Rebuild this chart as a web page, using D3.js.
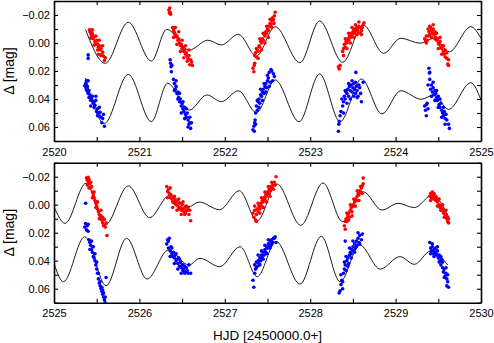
<!DOCTYPE html>
<html>
<head>
<meta charset="utf-8">
<script src="https://cdn.jsdelivr.net/npm/d3@7"></script>
<style>
  html, body { margin: 0; padding: 0; background: #fff; }
  svg { display: block; font-family: "Liberation Sans", Arial, sans-serif; }
</style>
</head>
<body>
<div id="chart"></div>
<script>
// ---- data (HJD - 2450000, delta mag) ----
const redTop = [
  [2520.415,-0.0095],[2520.42,-0.0085],[2520.425,-0.0075],[2520.43,-0.0092],[2520.435,-0.006],[2520.44,-0.0078],[2520.445,-0.004],[2520.45,-0.0065],[2520.455,-0.0052],[2520.46,-0.003],[2520.47,-0.0045],[2520.48,-0.001],[2520.49,0.001],[2520.5,-0.002],[2520.51,0.0005],[2520.52,0.003],[2520.53,0.002],[2520.54,0.005],[2520.55,0.004],[2520.56,0.008],[2520.57,0.0065],[2520.58,0.0095],[2520.6,0.0105],
  [2520.43,-0.0035],[2520.45,-0.0095],[2520.47,0.0015],[2520.49,-0.005],[2520.51,0.005],[2520.53,-0.002],[2520.55,0.009],[2520.57,0.002],[2520.59,0.0125],[2520.52,0.008],
  [2521.345,-0.0235],[2521.35,-0.0215],[2521.355,-0.025],[2521.36,-0.022],[2521.365,-0.0205],[2521.39,-0.011],[2521.40,-0.009],[2521.41,-0.0075],[2521.42,-0.006],[2521.43,-0.0045],[2521.44,-0.005],[2521.45,-0.002],[2521.46,-0.003],[2521.47,0.0],[2521.48,0.002],[2521.49,0.001],[2521.50,0.004],[2521.51,0.003],[2521.52,0.006],[2521.53,0.005],[2521.54,0.008],[2521.55,0.007],[2521.56,0.0095],[2521.57,0.011],[2521.58,0.009],[2521.6,0.012],[2521.61,0.0135],
  [2521.40,-0.004],[2521.42,-0.011],[2521.44,0.001],[2521.46,-0.008],[2521.48,0.006],[2521.50,-0.002],[2521.52,0.0105],[2521.54,0.002],[2521.56,0.013],[2521.58,0.005],[2521.62,0.016],[2521.59,0.0155],
  [2522.33,0.018],[2522.34,0.0205],[2522.345,0.016],[2522.35,0.0145],[2522.35,0.009],[2522.36,0.007],[2522.37,0.010],[2522.38,0.005],[2522.39,0.006],[2522.40,0.002],[2522.41,0.003],[2522.42,-0.001],[2522.43,0.0],[2522.44,-0.003],[2522.45,-0.002],[2522.46,-0.006],[2522.47,-0.005],[2522.48,-0.008],[2522.49,-0.007],[2522.50,-0.01],[2522.51,-0.009],[2522.52,-0.012],[2522.53,-0.014],[2522.54,-0.013],[2522.55,-0.016],[2522.56,-0.018],[2522.57,-0.0165],[2522.58,-0.0195],
  [2522.37,0.004],[2522.39,0.011],[2522.41,-0.003],[2522.43,0.005],[2522.45,-0.007],[2522.47,0.0],[2522.49,-0.012],[2522.51,-0.004],[2522.53,-0.017],[2522.55,-0.011],[2522.59,-0.022],[2522.575,-0.014],
  [2523.33,0.017],[2523.34,0.0185],[2523.35,0.016],[2523.38,0.006],[2523.39,0.004],[2523.40,0.001],[2523.41,0.003],[2523.42,-0.001],[2523.43,0.0],[2523.44,-0.003],[2523.45,-0.002],[2523.46,-0.005],[2523.47,-0.004],[2523.48,-0.007],[2523.49,-0.006],[2523.50,-0.008],[2523.51,-0.01],[2523.52,-0.007],[2523.53,-0.009],[2523.54,-0.011],[2523.55,-0.01],[2523.56,-0.008],[2523.57,-0.012],[2523.58,-0.011],[2523.60,-0.009],[2523.62,-0.013],[2523.60,-0.006],
  [2523.39,0.009],[2523.41,-0.003],[2523.43,0.004],[2523.45,-0.007],[2523.47,0.0],[2523.49,-0.011],[2523.51,-0.004],[2523.53,-0.013],[2523.55,-0.006],[2523.57,-0.015],[2523.59,-0.007],[2523.61,-0.011],[2523.63,-0.0145],
  [2524.34,-0.003],[2524.35,-0.0015],[2524.36,0.0],[2524.37,-0.002],[2524.38,-0.005],[2524.39,-0.008],[2524.40,-0.006],[2524.41,-0.011],[2524.42,-0.009],[2524.43,-0.007],[2524.44,-0.01],[2524.45,-0.006],[2524.46,-0.008],[2524.47,-0.004],[2524.48,-0.002],[2524.49,-0.003],[2524.50,0.0],[2524.51,0.001],[2524.52,-0.001],[2524.53,0.003],[2524.54,0.004],[2524.55,0.002],[2524.56,0.006],[2524.57,0.008],[2524.58,0.005],[2524.60,0.011],[2524.61,0.015],[2524.62,0.012],
  [2524.36,-0.005],[2524.38,-0.01],[2524.40,-0.012],[2524.42,-0.004],[2524.44,-0.013],[2524.46,-0.003],[2524.48,-0.007],[2524.50,0.004],[2524.52,-0.004],[2524.54,0.008],[2524.56,0.002],[2524.58,0.01],[2524.60,0.007],[2524.62,0.016]
];
const blueTop = [
  [2520.36,0.0305],[2520.37,0.029],[2520.375,0.032],[2520.38,0.0335],[2520.39,0.031],[2520.395,0.0345],[2520.40,0.027],[2520.40,0.036],[2520.41,0.039],[2520.42,0.037],[2520.43,0.041],[2520.44,0.040],[2520.45,0.0415],[2520.46,0.043],[2520.47,0.042],[2520.48,0.0445],[2520.49,0.041],[2520.50,0.049],[2520.51,0.047],[2520.52,0.050],[2520.53,0.052],[2520.54,0.0495],[2520.55,0.053],[2520.57,0.054],[2520.59,0.0595],[2520.40,0.0085],[2520.40,0.011],
  [2520.38,0.027],[2520.41,0.034],[2520.43,0.045],[2520.45,0.038],[2520.47,0.046],[2520.49,0.038],[2520.51,0.052],[2520.53,0.046],[2520.56,0.057],[2520.58,0.051],
  [2521.36,0.012],[2521.365,0.0145],[2521.37,0.017],[2521.375,0.0205],[2521.38,0.016],[2521.40,0.026],[2521.41,0.029],[2521.42,0.033],[2521.43,0.031],[2521.44,0.036],[2521.45,0.035],[2521.46,0.039],[2521.47,0.042],[2521.48,0.040],[2521.49,0.045],[2521.50,0.043],[2521.51,0.047],[2521.52,0.049],[2521.53,0.046],[2521.54,0.051],[2521.55,0.053],[2521.56,0.050],[2521.57,0.055],[2521.58,0.058],[2521.59,0.053],[2521.60,0.061],
  [2521.41,0.034],[2521.43,0.027],[2521.45,0.040],[2521.47,0.036],[2521.49,0.050],[2521.51,0.042],[2521.53,0.054],[2521.55,0.047],[2521.57,0.060],[2521.59,0.057],[2521.61,0.057],
  [2522.33,0.062],[2522.34,0.0595],[2522.345,0.063],[2522.35,0.057],[2522.355,0.055],[2522.36,0.05],[2522.37,0.045],[2522.38,0.048],[2522.39,0.042],[2522.40,0.040],[2522.41,0.043],[2522.42,0.037],[2522.43,0.038],[2522.44,0.035],[2522.45,0.033],[2522.46,0.036],[2522.47,0.031],[2522.48,0.029],[2522.49,0.032],[2522.50,0.027],[2522.51,0.025],[2522.52,0.021],[2522.53,0.028],[2522.55,0.020],[2522.57,0.022],[2522.58,0.024],
  [2522.36,0.058],[2522.38,0.041],[2522.40,0.046],[2522.42,0.033],[2522.44,0.041],[2522.46,0.029],[2522.48,0.035],[2522.50,0.023],[2522.52,0.031],[2522.54,0.019],[2522.56,0.027],
  [2523.33,0.063],[2523.335,0.058],[2523.34,0.056],[2523.35,0.052],[2523.36,0.049],[2523.38,0.045],[2523.39,0.042],[2523.40,0.038],[2523.41,0.040],[2523.42,0.035],[2523.43,0.036],[2523.44,0.033],[2523.45,0.038],[2523.46,0.031],[2523.47,0.034],[2523.48,0.030],[2523.49,0.035],[2523.50,0.032],[2523.51,0.029],[2523.52,0.033],[2523.53,0.036],[2523.54,0.031],[2523.55,0.034],[2523.56,0.038],[2523.58,0.032],[2523.60,0.042],[2523.62,0.028],[2523.535,0.021],
  [2523.37,0.040],[2523.39,0.050],[2523.41,0.034],[2523.43,0.043],[2523.45,0.029],[2523.47,0.040],[2523.49,0.027],[2523.51,0.038],[2523.53,0.028],[2523.55,0.039],[2523.57,0.030],[2523.59,0.036],
  [2524.34,0.045],[2524.35,0.048],[2524.36,0.052],[2524.37,0.043],[2524.38,0.030],[2524.39,0.018],[2524.395,0.0215],[2524.40,0.026],[2524.41,0.033],[2524.42,0.030],[2524.43,0.035],[2524.44,0.032],[2524.45,0.037],[2524.46,0.034],[2524.47,0.036],[2524.48,0.039],[2524.49,0.041],[2524.50,0.038],[2524.51,0.044],[2524.52,0.046],[2524.53,0.043],[2524.54,0.048],[2524.55,0.05],[2524.56,0.052],[2524.57,0.049],[2524.58,0.054],[2524.59,0.051],[2524.62,0.058],
  [2524.36,0.044],[2524.38,0.047],[2524.40,0.021],[2524.42,0.038],[2524.44,0.028],[2524.46,0.041],[2524.48,0.034],[2524.50,0.046],[2524.52,0.040],[2524.54,0.053],[2524.56,0.046],[2524.58,0.058],[2524.60,0.055],[2524.63,0.061]
];
const redBottom = [
  [2525.38,-0.019],[2525.39,-0.0175],[2525.40,-0.0195],[2525.405,-0.016],[2525.41,-0.018],[2525.42,-0.015],[2525.43,-0.012],[2525.44,-0.013],[2525.45,-0.009],[2525.46,-0.007],[2525.47,-0.005],[2525.48,-0.003],[2525.49,-0.001],[2525.50,0.001],[2525.51,0.003],[2525.52,0.005],[2525.53,0.007],[2525.54,0.009],[2525.55,0.008],[2525.56,0.011],[2525.57,0.013],[2525.58,0.015],[2525.59,0.0145],[2525.60,0.016],[2525.62,0.022],
  [2525.39,-0.014],[2525.41,-0.012],[2525.43,-0.016],[2525.45,-0.005],[2525.47,-0.009],[2525.49,0.002],[2525.51,-0.002],[2525.53,0.01],[2525.55,0.004],[2525.57,0.009],[2525.59,0.0105],[2525.61,0.013],
  [2526.32,-0.013],[2526.33,-0.0095],[2526.34,-0.011],[2526.35,-0.008],[2526.36,-0.005],[2526.37,-0.007],[2526.38,-0.004],[2526.39,-0.002],[2526.40,-0.005],[2526.41,-0.001],[2526.42,-0.003],[2526.43,0.0],[2526.44,-0.002],[2526.45,0.001],[2526.46,0.003],[2526.47,-0.001],[2526.48,0.002],[2526.49,0.004],[2526.50,0.0],[2526.51,0.003],[2526.52,0.005],[2526.53,0.002],[2526.54,0.006],[2526.55,0.001],[2526.56,0.004],[2526.58,0.007],[2526.60,0.0115],
  [2526.33,-0.005],[2526.36,-0.012],[2526.39,0.002],[2526.41,-0.006],[2526.44,0.004],[2526.46,-0.004],[2526.49,0.007],[2526.51,-0.002],[2526.53,0.007],[2526.55,0.004],[2526.57,0.002],[2526.59,0.004],
  [2527.33,0.006],[2527.34,0.009],[2527.35,0.004],[2527.36,0.011],[2527.37,0.007],[2527.38,0.003],[2527.39,0.005],[2527.40,0.001],[2527.41,0.003],[2527.42,-0.001],[2527.43,0.001],[2527.44,-0.003],[2527.45,-0.002],[2527.46,-0.005],[2527.47,-0.004],[2527.48,-0.007],[2527.49,-0.006],[2527.50,-0.009],[2527.51,-0.008],[2527.52,-0.011],[2527.53,-0.01],[2527.54,-0.013],[2527.55,-0.012],[2527.56,-0.014],[2527.58,-0.016],[2527.60,-0.02],
  [2527.35,0.001],[2527.37,0.012],[2527.39,-0.001],[2527.41,0.006],[2527.43,-0.005],[2527.45,0.002],[2527.47,-0.009],[2527.49,-0.002],[2527.51,-0.013],[2527.53,-0.006],[2527.55,-0.016],[2527.57,-0.011],[2527.59,-0.014],
  [2528.40,0.015],[2528.41,0.0175],[2528.42,0.010],[2528.43,0.012],[2528.44,0.008],[2528.45,0.006],[2528.46,0.009],[2528.47,0.004],[2528.48,0.002],[2528.49,0.005],[2528.50,0.0],[2528.51,0.001],[2528.52,-0.002],[2528.53,-0.004],[2528.54,-0.003],[2528.55,-0.006],[2528.56,-0.008],[2528.57,-0.007],[2528.58,-0.01],[2528.59,-0.009],[2528.60,-0.012],[2528.61,-0.0135],[2528.62,-0.019],
  [2528.41,0.012],[2528.43,0.006],[2528.45,0.011],[2528.47,0.0],[2528.49,0.008],[2528.51,-0.004],[2528.53,0.001],[2528.55,-0.01],[2528.57,-0.003],[2528.59,-0.013],[2528.61,-0.008],[2528.62,-0.015],
  [2529.40,-0.006],[2529.41,-0.008],[2529.42,-0.005],[2529.43,-0.009],[2529.44,-0.007],[2529.45,-0.004],[2529.46,-0.006],[2529.47,-0.003],[2529.48,-0.005],[2529.49,-0.002],[2529.50,-0.003],[2529.51,0.0],[2529.52,0.002],[2529.53,0.001],[2529.54,0.004],[2529.55,0.003],[2529.56,0.006],[2529.57,0.005],[2529.58,0.008],[2529.59,0.007],[2529.60,0.010],[2529.61,0.009],[2529.62,0.013],
  [2529.41,-0.003],[2529.43,-0.005],[2529.45,-0.008],[2529.47,-0.006],[2529.49,0.001],[2529.51,-0.004],[2529.53,0.004],[2529.55,0.0],[2529.57,0.009],[2529.59,0.004],[2529.61,0.012],[2529.62,0.01]
];
const blueBottom = [
  [2525.37,-0.001],[2525.36,0.016],[2525.37,0.0135],[2525.38,0.018],[2525.39,0.015],[2525.40,0.014],[2525.41,0.025],[2525.42,0.027],[2525.43,0.029],[2525.44,0.032],[2525.45,0.034],[2525.46,0.030],[2525.47,0.038],[2525.48,0.040],[2525.49,0.043],[2525.50,0.046],[2525.51,0.049],[2525.52,0.053],[2525.53,0.056],[2525.54,0.058],[2525.55,0.060],[2525.56,0.062],[2525.57,0.064],[2525.58,0.066],[2525.59,0.068],[2525.61,0.052],
  [2525.40,0.019],[2525.42,0.032],[2525.44,0.026],[2525.46,0.037],[2525.48,0.035],[2525.50,0.041],[2525.52,0.049],[2525.54,0.055],[2525.56,0.059],[2525.57,0.061],[2525.58,0.063],[2525.60,0.066],[2525.60,0.070],
  [2526.32,0.028],[2526.33,0.025],[2526.34,0.031],[2526.35,0.024],[2526.36,0.033],[2526.37,0.030],[2526.38,0.035],[2526.39,0.037],[2526.40,0.034],[2526.41,0.038],[2526.42,0.036],[2526.43,0.040],[2526.44,0.039],[2526.45,0.042],[2526.46,0.038],[2526.47,0.044],[2526.48,0.041],[2526.49,0.045],[2526.50,0.043],[2526.51,0.047],[2526.52,0.046],[2526.53,0.044],[2526.54,0.048],[2526.56,0.047],[2526.58,0.043],[2526.60,0.049],
  [2526.34,0.026],[2526.36,0.037],[2526.38,0.031],[2526.41,0.042],[2526.43,0.035],[2526.45,0.046],[2526.47,0.039],[2526.49,0.049],[2526.51,0.043],[2526.53,0.049],[2526.55,0.045],[2526.57,0.049],
  [2527.33,0.054],[2527.34,0.059],[2527.35,0.043],[2527.36,0.046],[2527.37,0.041],[2527.38,0.044],[2527.39,0.040],[2527.40,0.042],[2527.41,0.038],[2527.42,0.040],[2527.43,0.036],[2527.44,0.038],[2527.45,0.034],[2527.46,0.036],[2527.47,0.032],[2527.48,0.034],[2527.49,0.030],[2527.50,0.031],[2527.51,0.028],[2527.52,0.030],[2527.53,0.026],[2527.54,0.029],[2527.55,0.025],[2527.56,0.027],[2527.58,0.024],[2527.60,0.027],
  [2527.35,0.049],[2527.37,0.045],[2527.39,0.036],[2527.41,0.043],[2527.43,0.033],[2527.45,0.039],[2527.47,0.029],[2527.49,0.035],[2527.51,0.025],[2527.53,0.031],[2527.55,0.028],[2527.57,0.024],[2527.59,0.023],
  [2528.34,0.063],[2528.35,0.0615],[2528.36,0.057],[2528.37,0.054],[2528.38,0.060],[2528.39,0.049],[2528.40,0.046],[2528.41,0.043],[2528.42,0.047],[2528.43,0.040],[2528.44,0.038],[2528.45,0.042],[2528.46,0.036],[2528.47,0.034],[2528.48,0.038],[2528.49,0.032],[2528.50,0.030],[2528.51,0.033],[2528.52,0.028],[2528.53,0.031],[2528.54,0.026],[2528.55,0.029],[2528.56,0.024],[2528.57,0.027],[2528.58,0.022],[2528.60,0.025],[2528.41,0.026],
  [2528.36,0.050],[2528.38,0.055],[2528.40,0.041],[2528.42,0.037],[2528.44,0.044],[2528.46,0.031],[2528.48,0.035],[2528.50,0.026],[2528.52,0.034],[2528.54,0.030],[2528.56,0.020],[2528.58,0.028],[2528.61,0.021],
  [2529.40,0.027],[2529.41,0.031],[2529.42,0.033],[2529.43,0.030],[2529.44,0.035],[2529.45,0.032],[2529.46,0.034],[2529.47,0.031],[2529.48,0.036],[2529.49,0.033],[2529.50,0.038],[2529.51,0.036],[2529.52,0.040],[2529.53,0.043],[2529.54,0.039],[2529.55,0.045],[2529.56,0.048],[2529.57,0.046],[2529.58,0.051],[2529.59,0.049],[2529.60,0.053],[2529.61,0.055],[2529.62,0.059],
  [2529.41,0.035],[2529.43,0.028],[2529.45,0.037],[2529.47,0.035],[2529.49,0.030],[2529.51,0.041],[2529.53,0.037],[2529.55,0.041],[2529.57,0.052],[2529.59,0.045],[2529.61,0.050],[2529.60,0.058]
];

// model curves: turning points
const redModelTop = [
  [2520.37,-0.0095],[2520.60,0.0145],[2520.87,-0.0148],[2521.14,0.0129],[2521.32,-0.0098],[2521.585,0.005],[2521.80,-0.002],[2521.96,0.0014],[2522.16,-0.0062],[2522.37,0.0093],[2522.59,-0.0116],[2522.88,0.0141],[2523.11,-0.0157],[2523.38,0.0138],[2523.62,-0.0129],[2523.86,0.0074],[2524.06,-0.0034],[2524.29,0.0002],[2524.45,-0.0034],[2524.63,0.0062],[2524.88,-0.0116],[2525.0,-0.0034]
];
const blueModelTop = [
  [2520.37,0.025],[2520.59,0.0574],[2520.87,0.0224],[2521.14,0.0562],[2521.33,0.0288],[2521.585,0.0479],[2521.79,0.0371],[2521.96,0.0419],[2522.16,0.0341],[2522.37,0.0498],[2522.59,0.0264],[2522.87,0.0562],[2523.11,0.0221],[2523.35,0.0562],[2523.60,0.0257],[2523.84,0.0507],[2524.06,0.0341],[2524.30,0.0402],[2524.45,0.0371],[2524.62,0.0474],[2524.88,0.0284],[2525.0,0.0407]
];
const redModelBottom = [
  [2525.0,0.0014],[2525.13,0.0133],[2525.375,-0.0153],[2525.60,0.0145],[2525.87,-0.0134],[2526.12,0.0093],[2526.35,-0.0066],[2526.58,0.0014],[2526.70,-0.0019],[2526.94,0.0036],[2527.17,-0.01],[2527.38,0.0114],[2527.61,-0.0148],[2527.89,0.0147],[2528.15,-0.0155],[2528.38,0.0121],[2528.62,-0.0093],[2528.84,0.0038],[2529.03,-0.001],[2529.22,0.0021],[2529.43,-0.0069],[2529.62,0.0086]
];
const blueModelBottom = [
  [2525.0,0.0419],[2525.11,0.055],[2525.36,0.0229],[2525.61,0.0579],[2525.85,0.024],[2526.09,0.0531],[2526.34,0.0324],[2526.58,0.0431],[2526.71,0.0383],[2526.94,0.0443],[2527.18,0.03],[2527.38,0.0514],[2527.60,0.0262],[2527.88,0.0567],[2528.13,0.0226],[2528.35,0.055],[2528.58,0.0288],[2528.82,0.046],[2529.05,0.0371],[2529.22,0.0426],[2529.41,0.0331],[2529.61,0.0431]
];

const yTicks = [-0.03,-0.02,-0.01,0.00,0.01,0.02,0.03,0.04,0.05,0.06,0.07];
const yLabels = [-0.02,0.00,0.02,0.04,0.06];
const xDomainTop = [2520, 2525];
const xDomainBottom = [2525, 2530];
const yDomain = [-0.03, 0.07];

// ---- layout ----
const width = 494, height = 343;
const left = 54, right = 481;
const panels = [
  { top: 1, bottom: 141, xd: xDomainTop, red: redTop, blue: blueTop, redFit: redModelTop, blueFit: blueModelTop },
  { top: 162.7, bottom: 302.7, xd: xDomainBottom, red: redBottom, blue: blueBottom, redFit: redModelBottom, blueFit: blueModelBottom }
];

const svg = d3.select('#chart').append('svg')
  .attr('width', width)
  .attr('height', height);

const fmtY = d => yLabels.some(v => Math.abs(v - d) < 1e-9) ? d3.format('.2f')(d) : '';

panels.forEach(p => {
  const x = d3.scaleLinear().domain(p.xd).range([left, right]);
  const y = d3.scaleLinear().domain(yDomain).range([p.top, p.bottom]);
  const xTicks = d3.range(p.xd[0], p.xd[1] + 0.01, 0.5);
  const fmtX = d => Number.isInteger(d) ? d : '';

  const g = svg.append('g');

  // clip to the plot frame
  const clipId = 'clip' + p.xd[0];
  g.append('clipPath').attr('id', clipId)
    .append('rect').attr('x', left).attr('y', p.top).attr('width', right - left).attr('height', p.bottom - p.top);

  const plot = g.append('g').attr('clip-path', `url(#${clipId})`);

  const line = d3.line()
    .x(d => x(d[0]))
    .y(d => y(d[1]))
    .curve(d3.curveMonotoneX);

  [p.redFit, p.blueFit].forEach(fit => {
    plot.append('path')
      .attr('d', line(fit))
      .attr('fill', 'none')
      .attr('stroke', '#000')
      .attr('stroke-width', 0.9);
  });

  plot.selectAll('.red')
    .data(p.red).enter().append('circle')
    .attr('cx', d => x(d[0])).attr('cy', d => y(d[1])).attr('r', 1.8)
    .attr('fill', '#ff0000');

  plot.selectAll('.blue')
    .data(p.blue).enter().append('circle')
    .attr('cx', d => x(d[0])).attr('cy', d => y(d[1])).attr('r', 1.8)
    .attr('fill', '#0000ff');

  // axes, ticks pointing inward
  const axes = [
    g.append('g').attr('transform', `translate(0,${p.bottom})`)
      .call(d3.axisBottom(x).tickValues(xTicks).tickFormat(fmtX).tickSizeInner(-4).tickSizeOuter(0).tickPadding(7)),
    g.append('g').attr('transform', `translate(0,${p.top})`)
      .call(d3.axisTop(x).tickValues(xTicks).tickFormat('').tickSizeInner(-4).tickSizeOuter(0)),
    g.append('g').attr('transform', `translate(${left},0)`)
      .call(d3.axisLeft(y).tickValues(yTicks).tickFormat(fmtY).tickSizeInner(-4).tickSizeOuter(0).tickPadding(4)),
    g.append('g').attr('transform', `translate(${right},0)`)
      .call(d3.axisRight(y).tickValues(yTicks).tickFormat('').tickSizeInner(-4).tickSizeOuter(0))
  ];
  axes.forEach(a => {
    a.select('.domain').attr('stroke-width', 1.6);
    a.selectAll('.tick line').attr('stroke-width', 1.1);
    a.selectAll('text')
      .style('font-family', '"Liberation Sans", Arial, sans-serif')
      .style('font-size', '11px')
      .attr('fill', '#000');
  });

  // y title
  svg.append('text')
    .attr('transform', `translate(14,${(p.top + p.bottom) / 2}) rotate(-90)`)
    .attr('text-anchor', 'middle')
    .style('font-size', '14px')
    .text('\u0394 [mag]');
});

svg.append('text')
  .attr('x', (left + right) / 2)
  .attr('y', 340)
  .attr('text-anchor', 'middle')
  .style('font-size', '13.5px')
  .text('HJD [2450000.0+]');
</script>
</body>
</html>
